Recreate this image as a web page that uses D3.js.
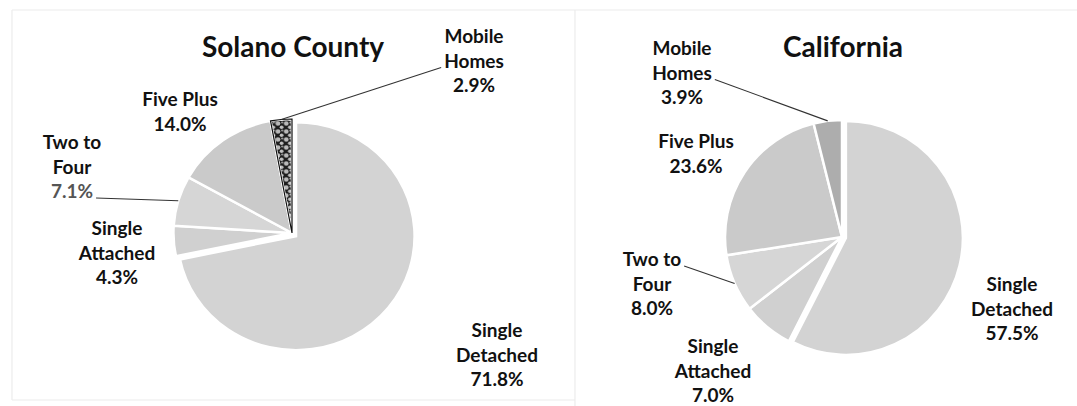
<!DOCTYPE html>
<html>
<head>
<meta charset="utf-8">
<script src="https://cdn.jsdelivr.net/npm/d3@7"></script>
<style>
  html, body { margin: 0; padding: 0; background: #ffffff; }
  svg { display: block; }
  text { font-family: Lato, "Open Sans", sans-serif; font-weight: 700; fill: #111; }
</style>
</head>
<body>
<script>
// ---- data ----
const categories = ["Single Detached", "Single Attached", "Two to Four", "Five Plus", "Mobile Homes"];
const labelLines = [["Single", "Detached"], ["Single", "Attached"], ["Two to", "Four"], ["Five Plus"], ["Mobile", "Homes"]];
const solanoValues = [71.8, 4.3, 7.1, 14.0, 2.9];
const californiaValues = [57.5, 7.0, 8.0, 23.6, 3.9];
const chartTitles = ["Solano County", "California"];

// ---- layout ----
const W = 1077, H = 406;
const svg = d3.select("body").append("svg").attr("width", W).attr("height", H);

const defs = svg.append("defs");
const pat = defs.append("pattern").attr("id", "speckle").attr("width", 8).attr("height", 8)
  .attr("patternUnits", "userSpaceOnUse");
pat.append("rect").attr("width", 8).attr("height", 8).attr("fill", "#1e1e1e");
pat.append("circle").attr("cx", 2.5).attr("cy", 2.5).attr("r", 2.3).attr("fill", "#b9b9b9");
pat.append("circle").attr("cx", 6).attr("cy", 6.2).attr("r", 1.8).attr("fill", "#c2c2c2");
pat.append("circle").attr("cx", 6.5).attr("cy", 1.5).attr("r", 1.0).attr("fill", "#aaaaaa");

// faint frame lines
const frame = svg.append("g").attr("stroke", "#ececec").attr("stroke-width", 1.2).attr("fill", "none");
frame.append("line").attr("x1", 12).attr("y1", 10).attr("x2", W).attr("y2", 10);
frame.append("line").attr("x1", 12).attr("y1", 10).attr("x2", 12).attr("y2", 400);
frame.append("line").attr("x1", 575).attr("y1", 10).attr("x2", 575).attr("y2", H);
frame.append("line").attr("x1", 12).attr("y1", 400).attr("x2", 575).attr("y2", 400);

const colorFor = (chartIdx) => d3.scaleOrdinal()
  .domain(categories)
  .range(["#d3d3d3", "#d0d0d0", "#d6d6d6", "#cacaca", chartIdx === 0 ? "url(#speckle)" : "#adadad"]);

const charts = [
  { values: solanoValues, title: chartTitles[0], titleX: 293, cx: 292, cy: 233, r: 114, sx: 1.04, explode: 5,
    labels: [ {x: 497, y: 337}, {x: 117, y: 235}, {x: 72, y: 149}, {x: 180, y: 106}, {x: 474, y: 43} ],
    leaders: { 2: {line: 2, side: "right"}, 4: {line: 1, side: "left"} } },
  { values: californiaValues, title: chartTitles[1], titleX: 843, cx: 842, cy: 237, r: 117, sx: 1.0, explode: 4,
    labels: [ {x: 1012, y: 291}, {x: 713, y: 353}, {x: 652, y: 266}, {x: 696, y: 148}, {x: 682, y: 55} ],
    leaders: { 2: {line: 0, side: "right"}, 4: {line: 1, side: "right"} } }
];

const lineH = 24.5;

charts.forEach((c, ci) => {
  const color = colorFor(ci);
  const pie = d3.pie().sort(null).value(d => d);
  const arcs = pie(c.values);
  const arc = d3.arc().innerRadius(0).outerRadius(c.r);

  const g = svg.append("g").attr("transform", `translate(${c.cx},${c.cy}) scale(${c.sx},1)`);
  g.selectAll("path").data(arcs).join("path")
    .attr("d", arc)
    .attr("transform", (d, i) => {
      if (i !== 0) return null;
      const a = (d.startAngle + d.endAngle) / 2;
      return `translate(${c.explode * Math.sin(a)},${-c.explode * Math.cos(a)})`;
    })
    .attr("fill", (d, i) => color(categories[i]))
    .attr("stroke", "#ffffff")
    .attr("stroke-width", 2.5)
    .attr("stroke-linejoin", "miter")
    .attr("vector-effect", "non-scaling-stroke");

  // Solano mobile homes slice gets a thin dark outline
  if (ci === 0) {
    g.append("path").attr("d", arc(arcs[4]))
      .attr("fill", "none").attr("stroke", "#111").attr("stroke-width", 1.2)
      .attr("vector-effect", "non-scaling-stroke");
  }

  // title
  svg.append("text").attr("x", c.titleX).attr("y", 57).attr("text-anchor", "middle")
    .style("font-size", "28px").text(c.title);

  // labels
  arcs.forEach((d, i) => {
    const L = c.labels[i];
    const lines = labelLines[i].concat([d3.format(".1f")(c.values[i]) + "%"]);
    const t = svg.append("text").attr("text-anchor", "middle").style("font-size", "19px");
    const tspans = lines.map((s, k) => t.append("tspan").attr("x", L.x).attr("y", L.y + k * lineH)
      .text(s).style("fill", (ci === 0 && i === 2 && k === 2) ? "#555" : null));

    const ld = c.leaders[i];
    if (ld) {
      const w = tspans[ld.line].node().getComputedTextLength();
      const y0 = L.y + ld.line * lineH;
      const x0 = ld.side === "right" ? L.x + w / 2 + 3 : L.x - w / 2 - 3;
      const a = (d.startAngle + d.endAngle) / 2;
      const x1 = c.cx + c.sx * c.r * Math.sin(a);
      const y1 = c.cy - c.r * Math.cos(a);
      svg.append("line").attr("x1", x0).attr("y1", y0).attr("x2", x1).attr("y2", y1)
        .attr("stroke", "#333").attr("stroke-width", 1.1);
    }
  });
});
</script>
</body>
</html>
